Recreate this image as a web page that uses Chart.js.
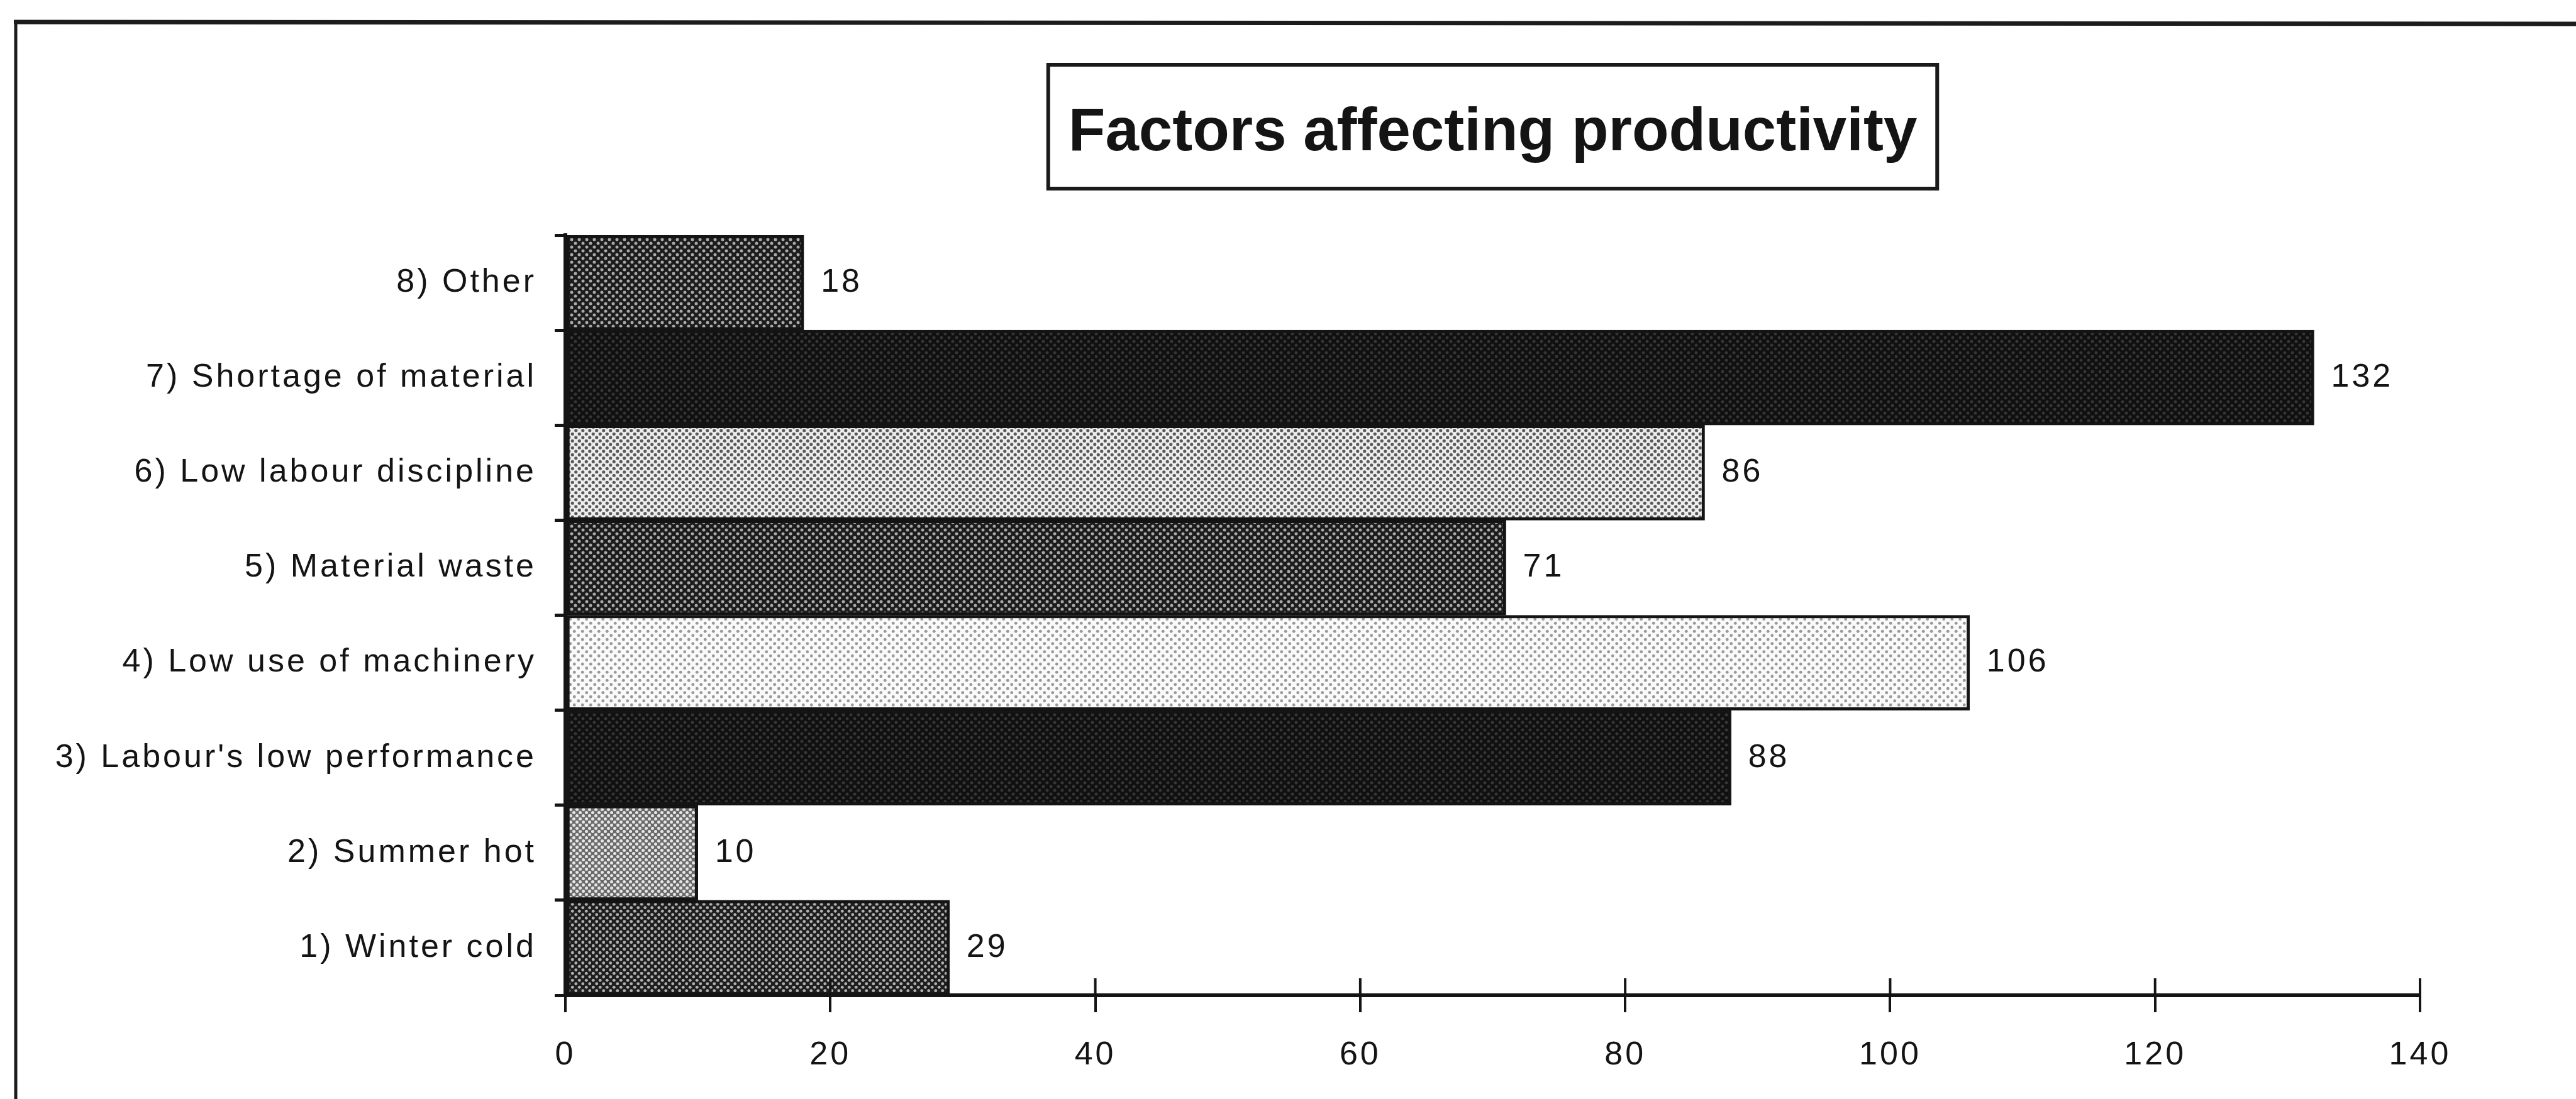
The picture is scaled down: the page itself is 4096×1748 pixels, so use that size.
<!DOCTYPE html>
<html>
<head>
<meta charset="utf-8">
<script src="https://cdn.jsdelivr.net/npm/chart.js@4.4.1/dist/chart.umd.min.js"></script>
<style>
  html, body { margin: 0; padding: 0; background: #ffffff; }
  #wrap { width: 4096px; height: 1748px; position: relative; overflow: hidden; }
  canvas { display: block; }
</style>
</head>
<body>
<div id="wrap"><canvas id="chart" width="4096" height="1748"></canvas></div>
<script>
// ---- data ----
const categories = [
  '1) Winter cold',
  '2) Summer hot',
  "3) Labour's low performance",
  '4) Low use of machinery',
  '5) Material waste',
  '6) Low labour discipline',
  '7) Shortage of material',
  '8) Other'
];
const responses = [29, 10, 88, 106, 71, 86, 132, 18];
const xTickValues = [0, 20, 40, 60, 80, 100, 120, 140];
const chartTitle = 'Factors affecting productivity';

// ---- dotted fills for the bars (one per category, same order) ----
const barTextures = [
  { bg: '#1e1e1e', dot: '#b0b0b0', size: 11, r: 2.4 },
  { bg: '#6a6a6a', dot: '#e6e6e6', size: 10, r: 2.5 },
  { bg: '#101010', dot: '#363636', size: 12, r: 2.5 },
  { bg: '#fafafa', dot: '#999999', size: 13, r: 2.4 },
  { bg: '#1c1c1c', dot: '#aaaaaa', size: 12, r: 2.5 },
  { bg: '#eeeeee', dot: '#5a5a5a', size: 11, r: 2.6 },
  { bg: '#101010', dot: '#363636', size: 12, r: 2.5 },
  { bg: '#1c1c1c', dot: '#aaaaaa', size: 12, r: 2.5 }
];

function makeDotPattern(t) {
  const tile = document.createElement('canvas');
  tile.width = t.size; tile.height = t.size;
  const c = tile.getContext('2d');
  c.fillStyle = t.bg;
  c.fillRect(0, 0, t.size, t.size);
  c.fillStyle = t.dot;
  const q = t.size / 4;
  [[q, q], [3 * q, 3 * q]].forEach(([x, y]) => {
    c.beginPath(); c.arc(x, y, t.r, 0, Math.PI * 2); c.fill();
  });
  return document.getElementById('chart').getContext('2d').createPattern(tile, 'repeat');
}
const barFills = barTextures.map(makeDotPattern);

const INK = '#141414';
const FONT = "'Liberation Sans', Arial, Helvetica, sans-serif";

// page frame (ruled lines of the surrounding figure)
const framePlugin = {
  id: 'frame',
  beforeDraw(chart) {
    const ctx = chart.ctx;
    ctx.save();
    ctx.fillStyle = '#ffffff';
    ctx.fillRect(0, 0, chart.width, chart.height);
    ctx.strokeStyle = '#1c1c1c';
    ctx.lineWidth = 7;
    ctx.beginPath(); ctx.moveTo(22, 35); ctx.lineTo(chart.width, 38); ctx.stroke();
    ctx.lineWidth = 5;
    ctx.beginPath(); ctx.moveTo(25, 33); ctx.lineTo(25, chart.height); ctx.stroke();
    ctx.restore();
    // small text is set slightly spaced
    ctx.letterSpacing = '4px';
  }
};

// upper half of the x-axis tick marks (they cross the axis line)
const crossTicksPlugin = {
  id: 'crossTicks',
  afterDatasetsDraw(chart) {
    const ctx = chart.ctx, xs = chart.scales.x, bottom = chart.chartArea.bottom;
    ctx.save();
    ctx.strokeStyle = INK;
    ctx.lineWidth = 4;
    xs.ticks.forEach((t, i) => {
      const x = xs.getPixelForTick(i);
      ctx.beginPath(); ctx.moveTo(x, bottom - 27); ctx.lineTo(x, bottom); ctx.stroke();
    });
    ctx.restore();
  }
};

// value printed at the end of each bar
const valueLabelPlugin = {
  id: 'valueLabels',
  afterDatasetsDraw(chart) {
    const ctx = chart.ctx;
    const meta = chart.getDatasetMeta(0);
    ctx.save();
    ctx.font = '52px ' + FONT;
    ctx.fillStyle = INK;
    ctx.textAlign = 'left';
    ctx.textBaseline = 'middle';
    meta.data.forEach((bar, i) => {
      ctx.fillText(String(responses[i]), bar.x + 27, bar.y);
    });
    ctx.restore();
  }
};

// boxed title centred over the plot area
const boxedTitlePlugin = {
  id: 'boxedTitle',
  afterDraw(chart) {
    const ctx = chart.ctx, area = chart.chartArea;
    ctx.save();
    ctx.letterSpacing = '0px';
    ctx.font = 'bold 96px ' + FONT;
    const w = ctx.measureText(chartTitle).width;
    const cx = (area.left + area.right) / 2;
    const boxW = w + 64;
    ctx.fillStyle = '#ffffff';
    ctx.fillRect(cx - boxW / 2, 103, boxW, 197);
    ctx.strokeStyle = '#1a1a1a';
    ctx.lineWidth = 6;
    ctx.strokeRect(cx - boxW / 2, 103, boxW, 197);
    ctx.fillStyle = INK;
    ctx.textAlign = 'center';
    ctx.textBaseline = 'alphabetic';
    ctx.fillText(chartTitle, cx, 239);
    ctx.restore();
  }
};

new Chart(document.getElementById('chart'), {
  type: 'bar',
  data: {
    labels: categories,
    datasets: [{
      data: responses,
      backgroundColor: barFills,
      borderColor: INK,
      borderWidth: 5,
      borderSkipped: false,
      categoryPercentage: 1.0,
      barPercentage: 1.0
    }]
  },
  options: {
    indexAxis: 'y',
    responsive: false,
    animation: false,
    devicePixelRatio: 1,
    layout: { padding: { top: 374, right: 248, bottom: 10, left: 10 } },
    plugins: {
      legend: { display: false },
      title: { display: false },
      tooltip: { enabled: false }
    },
    scales: {
      x: {
        type: 'linear',
        min: 0,
        max: 140,
        afterBuildTicks(scale) { scale.ticks = xTickValues.map(v => ({ value: v })); },
        afterFit(scale) { scale.height = 155; },
        grid: { drawOnChartArea: false, drawTicks: true, tickLength: 27, lineWidth: 4, color: INK },
        border: { display: true, color: INK, width: 6 },
        ticks: { color: INK, font: { family: FONT, size: 52 }, padding: 37, maxRotation: 0 }
      },
      y: {
        type: 'category',
        reverse: true,
        offset: true,
        afterFit(scale) { scale.width = 889; },
        grid: { offset: true, drawOnChartArea: false, drawTicks: true, tickLength: 17, lineWidth: 5, color: INK },
        border: { display: true, color: INK, width: 6 },
        ticks: { color: INK, font: { family: FONT, size: 52 }, padding: 29, autoSkip: false }
      }
    }
  },
  plugins: [framePlugin, crossTicksPlugin, valueLabelPlugin, boxedTitlePlugin]
});
</script>
</body>
</html>
